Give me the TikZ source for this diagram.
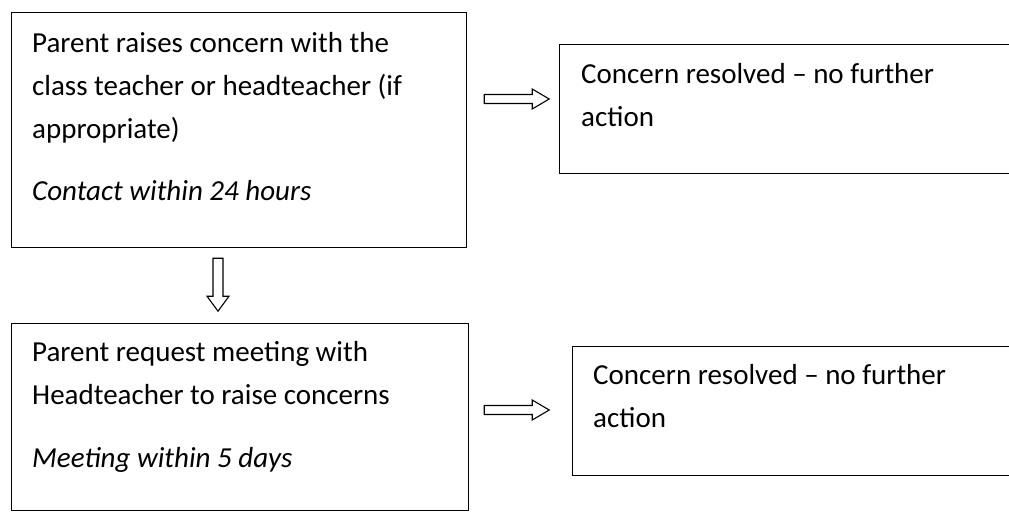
\documentclass[tikz,border=0pt]{standalone}
\usepackage{fontspec}
\setmainfont{Carlito}
\usetikzlibrary{calc}

\begin{document}
\begin{tikzpicture}[x=1pt,y=-1pt,
    stagebox/.style={draw,line width=1.2pt,anchor=north west,inner sep=0pt},
    stagetext/.style={anchor=base west,align=left,inner sep=0pt,
        font=\fontsize{29}{43}\selectfont},
    hollowarrow/.style={draw,line width=1.1pt,fill=white,line join=miter},
    rightblock/.pic={\draw[hollowarrow] (0,-4.5) -- (48,-4.5) -- (48,-10) -- (65,0)
        -- (48,10) -- (48,4.5) -- (0,4.5) -- cycle;},
    downblock/.pic={\draw[hollowarrow] (-5,0) -- (5,0) -- (5,38) -- (11,38) -- (0,53)
        -- (-11,38) -- (-5,38) -- cycle;}]
    \useasboundingbox (0,0) rectangle (1009,512);

    % Stage 1: concern raised with the class teacher
    \node[stagebox,minimum width=455pt,minimum height=235pt] (raise) at (11,12) {};
    % (base of a node of several lines = its last line)
    \node[stagetext] (raisetext) at ($(raise.north west)+(21,188)$)
        {Parent raises concern with the\\class teacher or headteacher (if\\appropriate)\\[19pt]\textit{Contact within 24 hours}};

    % Resolved after stage 1
    \node[stagebox,minimum width=456pt,minimum height=129pt] (resolvedA) at (559,44) {};
    \node[stagetext] (resolvedAtext) at ($(resolvedA.north west)+(22,82)$)
        {Concern resolved -- no further\\action};

    % Stage 2: meeting with the headteacher
    \node[stagebox,minimum width=457pt,minimum height=187pt] (request) at (11,323) {};
    \node[stagetext] (requesttext) at ($(request.north west)+(21,144)$)
        {Parent request meeting with\\Headteacher to raise concerns\\[20pt]\textit{Meeting within 5 days}};

    % Resolved after stage 2
    \node[stagebox,minimum width=443pt,minimum height=129pt] (resolvedB) at (572,346) {};
    \node[stagetext] (resolvedBtext) at ($(resolvedB.north west)+(21,81)$)
        {Concern resolved -- no further\\action};

    % Block arrows between the stages
    \pic at ($(raise.north east)+(17,87)$) {rightblock};
    \pic at ($(request.north east)+(15,87)$) {rightblock};
    \pic at ($(raise.south west)+(207,10)$) {downblock};
\end{tikzpicture}
\end{document}
